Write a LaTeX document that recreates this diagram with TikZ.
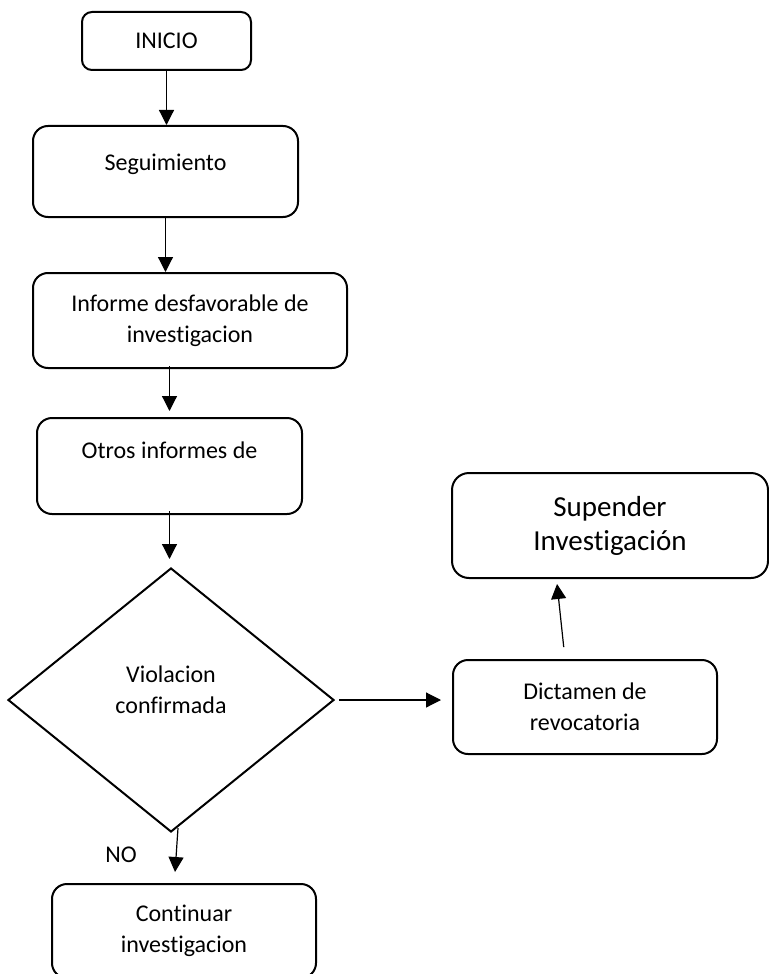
\documentclass[tikz,border=0pt]{standalone}
\usepackage{fontspec}
\setmainfont{Carlito}[Ligatures=NoCommon]
\usetikzlibrary{shapes.geometric,arrows.meta}

\tikzset{
    caja/.style={draw, line width=1pt, rounded corners=7.5pt, align=center,
        font=\fontsize{12pt}{15.5pt}\selectfont, inner sep=2pt},
    rombo/.style={draw, diamond, line width=1pt, align=center,
        font=\fontsize{12pt}{15.5pt}\selectfont, inner sep=0pt},
    flecha/.style={line width=0.6pt, -{Triangle[length=7.5pt,width=7.5pt]}}
}

\begin{document}
\begin{tikzpicture}[x=0.5pt, y=-0.5pt]
        \useasboundingbox (0,0) rectangle (769,974);
        \clip (0,0) rectangle (769,974);

        % Boxes
        \node[caja, rounded corners=5pt, minimum width=84.5pt, minimum height=29pt] (inicio) at (166.5,41) {INICIO};
        \node[caja, minimum width=132.5pt, minimum height=45.5pt, text depth=9.5pt] (seg) at (165.5,171.5) {Seguimiento};
        \node[caja, minimum width=157pt, minimum height=47.5pt] (inf) at (190,320.5) {Informe desfavorable de\\investigacion};
        \node[caja, minimum width=132.5pt, minimum height=48pt, text depth=16pt] (otr) at (169.5,466) {Otros informes de};
        \node[rombo, minimum width=163pt, minimum height=132pt, text depth=10pt] (vio) at (171,700) {Violacion\\confirmada};
        \node[caja, minimum width=132pt, minimum height=47pt] (dic) at (585,707) {Dictamen de\\revocatoria};
        \node[caja, rounded corners=8.5pt, minimum width=158pt, minimum height=52.5pt,
            font=\fontsize{14.5pt}{17pt}\selectfont] (sus) at (610,525.5) {Supender\\Investigación};
        \node[caja, minimum width=132pt, minimum height=47pt] (con) at (184,931) {Continuar\\investigacion};
        \node (no) at (121,855) {\fontsize{12pt}{14pt}\selectfont NO};

        % Arrows
        \draw[flecha] (inicio.south) -- (inicio.south |- seg.north);
        \draw[flecha] (seg.south) -- (seg.south |- inf.north);
        \draw[flecha, shorten <=-1.5pt, shorten >=3pt] (inf.south -| otr.north) -- (otr.north);
        \draw[flecha, shorten <=-2pt, shorten >=4pt] (otr.south) -- (otr.south |- vio.north);
        \draw[flecha, shorten <=2pt, shorten >=5.5pt] (vio.east) -- (vio.east -| dic.west);
        \draw[flecha, shorten <=6pt, shorten >=2.5pt] ([xshift=-10pt]dic.north) -- ([xshift=-26.75pt]sus.south);
        \draw[flecha, shorten >=5.5pt] ([xshift=3.5pt,yshift=2.5pt]vio.south) -- ([xshift=-4.85pt]con.north);
    \end{tikzpicture}
\end{document}
